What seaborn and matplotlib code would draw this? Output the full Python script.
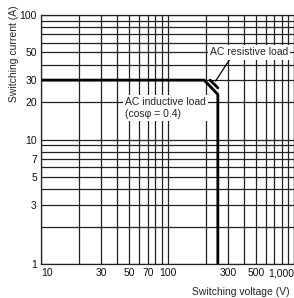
import matplotlib
matplotlib.use("Agg")
import matplotlib.pyplot as plt
import matplotlib.ticker as mticker
import seaborn as sns

# values
inductive_v = [10, 195, 250, 250]
inductive_a = [30, 30, 23, 1]
resistive_v = [217, 250]
resistive_a = [30, 26]

xticks = [10, 30, 50, 70, 100, 300, 500, 1000]
xlabels = ["10", "30", "50", "70", "100", "300", "500", "1,000"]
yticks = [1, 3, 5, 7, 10, 20, 30, 50, 100]
ylabels = ["1", "3", "5", "7", "10", "20", "30", "50", "100"]

sns.set_style("white")
plt.rcParams["font.family"] = ["Liberation Sans", "DejaVu Sans"]

fig = plt.figure(figsize=(2.94, 2.98), dpi=100)
ax = fig.add_axes([41 / 294, 1 - 264 / 298, 1 - 41 / 294, (264 - 15) / 298])

ax.set_xscale("log")
ax.set_yscale("log")
ax.set_xlim(10, 1000)
ax.set_ylim(1, 100)

# grid on every 1..9 step of each decade
ax.xaxis.set_minor_locator(mticker.LogLocator(base=10, subs=range(2, 10)))
ax.yaxis.set_minor_locator(mticker.LogLocator(base=10, subs=range(2, 10)))
ax.xaxis.set_minor_formatter(mticker.NullFormatter())
ax.yaxis.set_minor_formatter(mticker.NullFormatter())
ax.grid(True, which="both", color="#222222", lw=0.9)
ax.set_axisbelow(True)

ax.set_xticks(xticks)
ax.set_xticklabels(xlabels)
ax.set_yticks(yticks)
ax.set_yticklabels(ylabels)
ax.tick_params(which="both", length=0, labelsize=7.5, pad=3, colors="#111111")
xt = ax.get_xticklabels()
xt[0].set_ha("left")
xt[-1].set_ha("right")

for s in ax.spines.values():
    s.set_color("#222222")
    s.set_linewidth(0.9)

sns.lineplot(x=inductive_v, y=inductive_a, estimator=None, sort=False,
             color="black", lw=2.0, ax=ax)
sns.lineplot(x=resistive_v, y=resistive_a, estimator=None, sort=False,
             color="black", lw=2.0, ax=ax)

box = dict(facecolor="white", edgecolor="none", pad=1.5)
ax.text(46, 18, "AC inductive load\n(cosφ = 0.4)", fontsize=7.5,
        ha="left", va="center", bbox=box, linespacing=1.25)
ax.annotate("AC resistive load", xy=(240, 29.5), xytext=(216, 50),
            fontsize=7.5, ha="left", va="center", bbox=box,
            arrowprops=dict(arrowstyle="-", color="black", lw=0.9,
                            shrinkA=0, shrinkB=0,
                            relpos=(0.27, 0.0)))

ax.set_xlabel("")
ax.set_ylabel("")
fig.text(290 / 294, 1 - 292 / 298, "Switching voltage (V)", fontsize=7.5,
         ha="right", va="center")
fig.text(14 / 294, 1 - 54 / 298, "Switching current (A)", fontsize=7.5,
         ha="center", va="center", rotation=90)

fig.savefig("out.png", dpi=100)
